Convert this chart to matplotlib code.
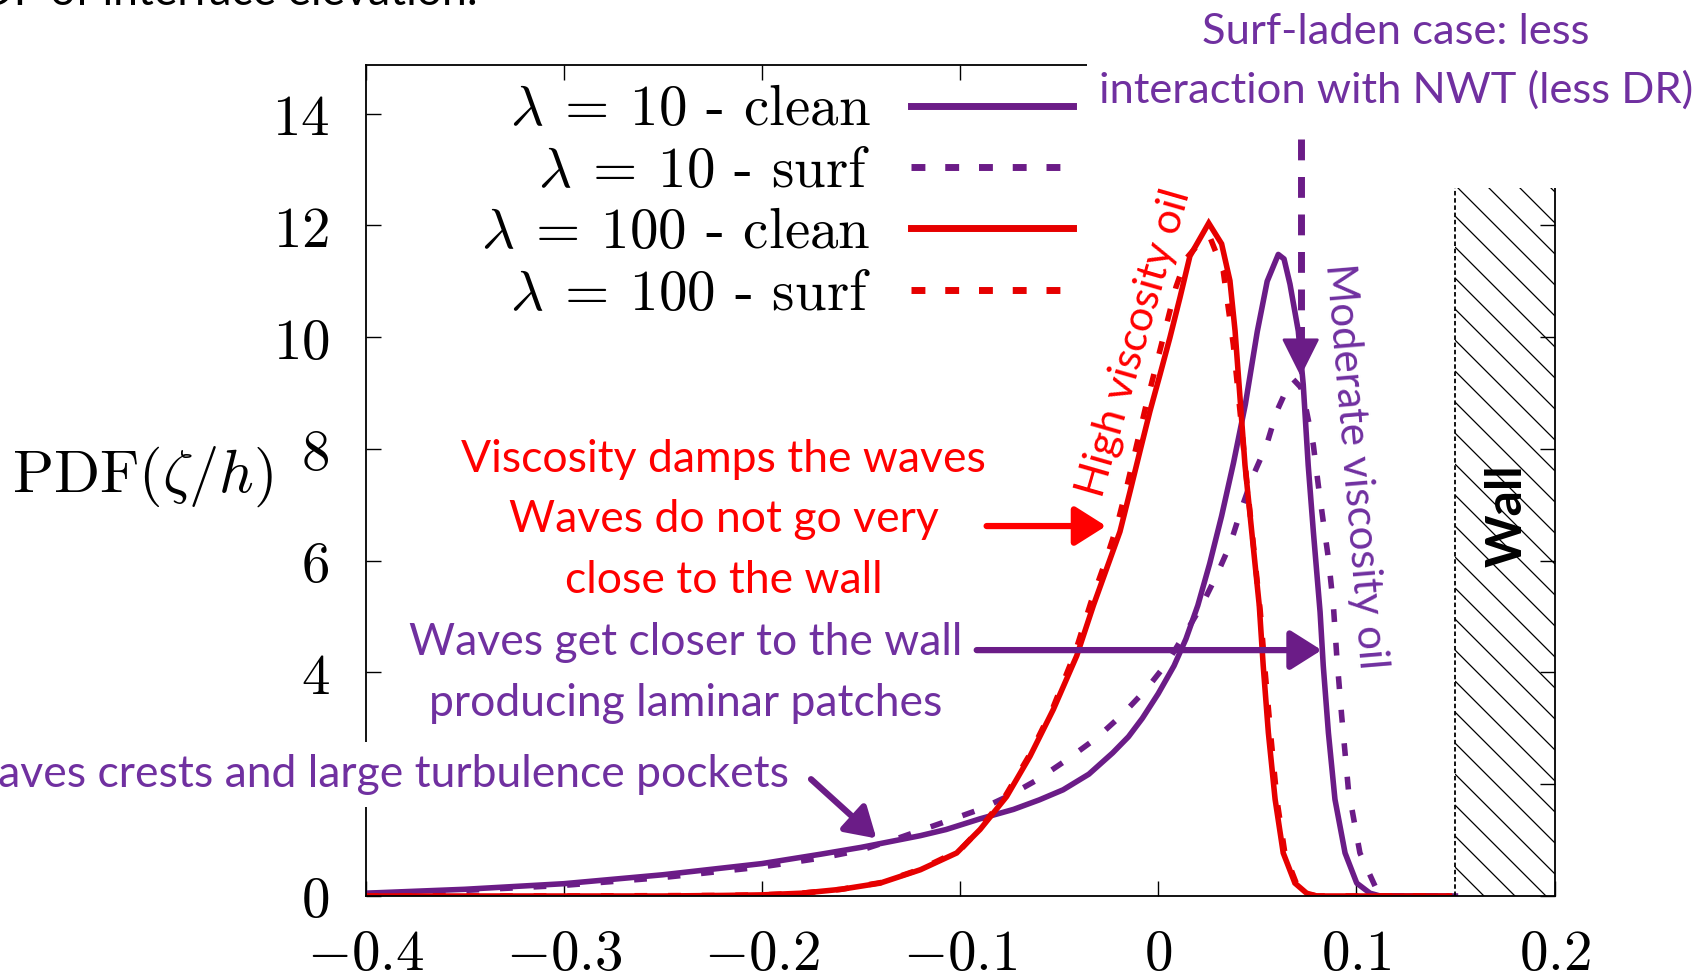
import matplotlib
matplotlib.use('Agg')
import numpy as np
import matplotlib.pyplot as plt
from matplotlib.patches import Rectangle
from matplotlib.lines import Line2D

plt.rcParams['mathtext.fontset'] = 'cm'

# ---------------- data ----------------
x_l10_clean = [-0.40, -0.35, -0.30, -0.25, -0.20, -0.17, -0.15, -0.14, -0.12, -0.107, -0.09, -0.073,
               -0.06, -0.048, -0.035, -0.023, -0.015, -0.008, 0.0, 0.008, 0.014, 0.020, 0.026, 0.032,
               0.038, 0.044, 0.050, 0.055, 0.0606, 0.0635, 0.0665, 0.0707, 0.0732, 0.0757, 0.0783,
               0.0817, 0.0833, 0.0859, 0.0892, 0.0943, 0.1002, 0.1069, 0.112, 0.15]
y_l10_clean = [0.05, 0.12, 0.22, 0.38, 0.58, 0.75, 0.87, 0.94, 1.08, 1.19, 1.38, 1.55,
               1.72, 1.90, 2.18, 2.56, 2.85, 3.18, 3.62, 4.12, 4.60, 5.20, 5.95, 6.80,
               7.75, 8.80, 10.10, 11.00, 11.48, 11.40, 10.95, 10.11, 9.15, 7.71, 6.52,
               5.08, 4.12, 2.92, 1.73, 0.77, 0.23, 0.05, 0.0, 0.0]

x_l10_surf = [-0.40, -0.35, -0.30, -0.25, -0.20, -0.17, -0.15, -0.13, -0.109, -0.09, -0.075, -0.061,
              -0.046, -0.031, -0.018, -0.006, 0.004, 0.014, 0.022, 0.0295, 0.0362, 0.0421, 0.048,
              0.0547, 0.0598, 0.064, 0.068, 0.072, 0.0749, 0.0783, 0.0808, 0.0833, 0.0859, 0.0884,
              0.0901, 0.0926, 0.0960, 0.1018, 0.1103, 0.115, 0.15]
y_l10_surf = [0.04, 0.10, 0.19, 0.33, 0.52, 0.68, 0.82, 1.05, 1.31, 1.55, 1.80, 2.08,
              2.44, 2.83, 3.25, 3.70, 4.15, 4.72, 5.20, 5.74, 6.28, 6.94, 7.53,
              8.07, 8.67, 9.00, 9.25, 9.10, 8.67, 8.07, 7.35, 6.70, 6.04, 5.20,
              4.30, 3.22, 1.90, 0.77, 0.11, 0.0, 0.0]

x_l100_clean = [-0.40, -0.30, -0.25, -0.22, -0.20, -0.18, -0.16, -0.1404, -0.12, -0.1017, -0.0899,
                -0.0765, -0.0647, -0.0529, -0.0411, -0.0327, -0.026, -0.0193, -0.0142, -0.0092,
                -0.0042, 0.0009, 0.0059, 0.0110, 0.016, 0.0255, 0.032, 0.0362, 0.0388, 0.0413,
                0.0438, 0.0472, 0.051, 0.0530, 0.0556, 0.0590, 0.0631, 0.0690, 0.0749, 0.08, 0.147]
y_l100_clean = [0.0, 0.0, 0.0, 0.01, 0.02, 0.05, 0.12, 0.23, 0.47, 0.77, 1.19,
                1.78, 2.50, 3.34, 4.30, 5.20, 5.86, 6.52, 7.24, 7.96,
                8.67, 9.33, 9.99, 10.71, 11.45, 12.04, 11.67, 11.01, 10.11, 8.91,
                7.71, 6.52, 5.20, 4.12, 2.92, 1.73, 0.77, 0.23, 0.05, 0.0, 0.0]

x_l100_surf = [-0.40, -0.30, -0.22, -0.20, -0.18, -0.16, -0.14, -0.12, -0.10, -0.09, -0.077, -0.065,
               -0.053, -0.042, -0.034, -0.027, -0.021, -0.016, -0.011, -0.006, -0.001, 0.004, 0.009,
               0.014, 0.020, 0.026, 0.0328, 0.0379, 0.0413, 0.0447, 0.048, 0.0515, 0.054, 0.057,
               0.060, 0.064, 0.070, 0.076, 0.08, 0.147]
y_l100_surf = [0.0, 0.0, 0.01, 0.02, 0.05, 0.12, 0.24, 0.48, 0.82, 1.20, 1.80, 2.52,
               3.38, 4.35, 5.25, 5.95, 6.60, 7.30, 8.05, 8.80, 9.50, 10.20, 10.90,
               11.40, 11.65, 11.80, 11.19, 9.87, 8.67, 7.42, 6.30, 5.10, 4.00, 2.80,
               1.70, 0.75, 0.20, 0.03, 0.0, 0.0]

labels = [r'$\lambda\:=\:10$ - clean', r'$\lambda\:=\:10$ - surf',
          r'$\lambda\:=\:100$ - clean', r'$\lambda\:=\:100$ - surf']

x_ticks = [-0.4, -0.3, -0.2, -0.1, 0.0, 0.1, 0.2]
x_ticklabels = [r'$-0.4$', r'$-0.3$', r'$-0.2$', r'$-0.1$', r'$0$', r'$0.1$', r'$0.2$']
y_ticks = [0, 2, 4, 6, 8, 10, 12, 14]
y_ticklabels = [r'$0$', r'$2$', r'$4$', r'$6$', r'$8$', r'$10$', r'$12$', r'$14$']

wall_x = [0.15, 0.20]
wall_top = 12.73

# ---------------- styling ----------------
PURPLE = '#6b1c87'
RED = '#e60000'
TXT_PURPLE = '#7030a0'
TXT_RED = '#ff0000'
TXT_FONT = ['Lato', 'DejaVu Sans']
W, H = 1701, 976
AX_L, AX_R, AX_T, AX_B = 365.6, 1554.5, 65.0, 896.0
YMAX = 14.87


def fx(px):
    return px / W


def fy(py):
    return 1 - py / H


fig = plt.figure(figsize=(W / 100, H / 100), dpi=100)
ax = fig.add_axes([fx(AX_L), fy(AX_B), (AX_R - AX_L) / W, (AX_B - AX_T) / H])
ax.set_xlim(-0.4, 0.2)
ax.set_ylim(0, YMAX)

LW = 4.0
DASH = (0, (2.3, 3.75))
ax.plot(x_l10_clean, y_l10_clean, color=PURPLE, lw=LW, solid_joinstyle='round', zorder=2)
ax.plot(x_l10_surf, y_l10_surf, color=PURPLE, lw=LW, ls=DASH, zorder=2)
ax.plot(x_l100_clean, y_l100_clean, color=RED, lw=LW, solid_joinstyle='miter', zorder=2.1)
ax.plot(x_l100_surf, y_l100_surf, color=RED, lw=LW, ls=DASH, zorder=2.1)

# wall (sparse 45-degree hatching clipped to the wall box)
wall_rect = Rectangle((wall_x[0], 0), wall_x[1] - wall_x[0], wall_top, facecolor='none',
                      edgecolor='none', zorder=1)
ax.add_patch(wall_rect)
px_per_x = (AX_R - AX_L) / 0.6
px_per_y = (AX_B - AX_T) / YMAX
drop = (wall_x[1] - wall_x[0]) * px_per_x / px_per_y
step = 31.0 / px_per_y
for c in np.arange(12.16 + 4 * step, -drop - step, -step):
    ln, = ax.plot(wall_x, [c, c - drop], color='black', lw=0.9, zorder=1)
    ln.set_clip_path(wall_rect)
ax.plot([wall_x[0], wall_x[0]], [0, wall_top], color='black', lw=1.3, ls=(0, (2.5, 1.5)), zorder=2)
ax.text(0.1762, 6.81, 'Wall', rotation=90, ha='center', va='center', fontsize=36,
        fontweight='bold', family=TXT_FONT, color='black', zorder=3)

# axes cosmetics
for s in ax.spines.values():
    s.set_linewidth(1.3)
ax.set_xticks(x_ticks)
ax.set_xticklabels(x_ticklabels)
ax.set_yticks(y_ticks)
ax.set_yticklabels(y_ticklabels)
ax.tick_params(direction='in', length=11, width=1.0, top=True, right=True, labelsize=41)
ax.tick_params(axis='x', pad=22)
ax.tick_params(axis='y', pad=26)
ax.set_ylabel(r'$\mathrm{PDF}(\zeta/h)$', rotation=0, fontsize=43.5, ha='center', va='center')
ax.yaxis.set_label_coords(-0.1872, 0.504)

# white cover (text box area in the top-right corner)
ax.add_patch(Rectangle((fx(1087), fy(187.5)), 1 - fx(1087), 187.5 / H, transform=fig.transFigure,
                       facecolor='white', edgecolor='none', clip_on=False, zorder=2.6))

# legend
handles = [Line2D([], [], color=PURPLE, lw=5),
           Line2D([], [], color=PURPLE, lw=5, ls=(0, (2.0, 2.86))),
           Line2D([], [], color=RED, lw=5),
           Line2D([], [], color=RED, lw=5, ls=(0, (2.0, 2.86)))]
leg = ax.legend(handles, labels, loc='center right', bbox_to_anchor=(fx(1073), fy(203)),
                bbox_transform=fig.transFigure, frameon=False, markerfirst=False,
                prop={'family': 'cmr10', 'size': 41}, handlelength=2.85, handletextpad=0.7,
                labelspacing=0.18, borderpad=0, borderaxespad=0)
leg.set_zorder(5)

# ---------------- annotations ----------------
fig.text(fx(1396), fy(61), 'Surf-laden case: less\ninteraction with NWT (less DR)',
         ha='center', va='center', fontsize=31.3, color=TXT_PURPLE, family=TXT_FONT,
         linespacing=1.6, zorder=5)
fig.text(fx(478), fy(4.6), 'PDF of interface elevation:', ha='right', va='baseline',
         fontsize=32, color='black', family=TXT_FONT)

ax.text(-0.012, 9.9, 'High viscosity oil', rotation=74, rotation_mode='anchor',
        ha='center', va='center', fontsize=31, color=TXT_RED, family=TXT_FONT, zorder=3)
ax.text(0.0993, 7.69, 'Moderate viscosity oil', rotation=-85.2, rotation_mode='anchor',
        ha='center', va='center', fontsize=30.3, color=TXT_PURPLE, family=TXT_FONT, zorder=3)

fig.text(fx(723.6), fy(520), 'Viscosity damps the waves\nWaves do not go very\nclose to the wall',
         ha='center', va='center', fontsize=32, color=TXT_RED, family=TXT_FONT, linespacing=1.6)
fig.text(fx(685.6), fy(673), 'Waves get closer to the wall\nproducing laminar patches',
         ha='center', va='center', fontsize=32, color=TXT_PURPLE, family=TXT_FONT, linespacing=1.6)
ax.text(fx(788.7), fy(774.5), 'Waves crests and large turbulence pockets', transform=fig.transFigure,
        ha='right', va='center', fontsize=32, color=TXT_PURPLE, family=TXT_FONT, zorder=4,
        bbox=dict(boxstyle='square,pad=0.28', facecolor='white', edgecolor='none'))

# arrows
ax.annotate('', xy=(-0.0263, 6.62), xytext=(-0.0866, 6.62),
            arrowprops=dict(arrowstyle='-|>,head_length=0.95,head_width=0.6', color=TXT_RED,
                            lw=4.5, shrinkA=0, shrinkB=0, mutation_scale=20, capstyle='round'),
            zorder=4)
ax.annotate('', xy=(0.0825, 4.40), xytext=(-0.0916, 4.40),
            arrowprops=dict(arrowstyle='-|>,head_length=0.95,head_width=0.6', color=PURPLE,
                            lw=4.5, shrinkA=0, shrinkB=0, mutation_scale=20, capstyle='round'),
            zorder=4)
ax.annotate('', xy=(-0.1422, 1.03), xytext=(-0.1752, 2.09),
            arrowprops=dict(arrowstyle='-|>,head_length=0.9,head_width=0.55', color=PURPLE,
                            lw=4.5, shrinkA=0, shrinkB=0, mutation_scale=20, capstyle='round'),
            zorder=4)
ax.plot([0.0719, 0.0719], [13.54, 9.9], color=PURPLE, lw=5, ls=(0, (3.0, 2.4)), zorder=4,
        solid_capstyle='butt')
ax.annotate('', xy=(0.0719, 9.30), xytext=(0.0719, 10.0),
            arrowprops=dict(arrowstyle='-|>,head_length=1.2,head_width=0.6', color=PURPLE,
                            lw=2, shrinkA=0, shrinkB=0, mutation_scale=20),
            zorder=4)

fig.savefig('out.png', dpi=100, facecolor='white')
